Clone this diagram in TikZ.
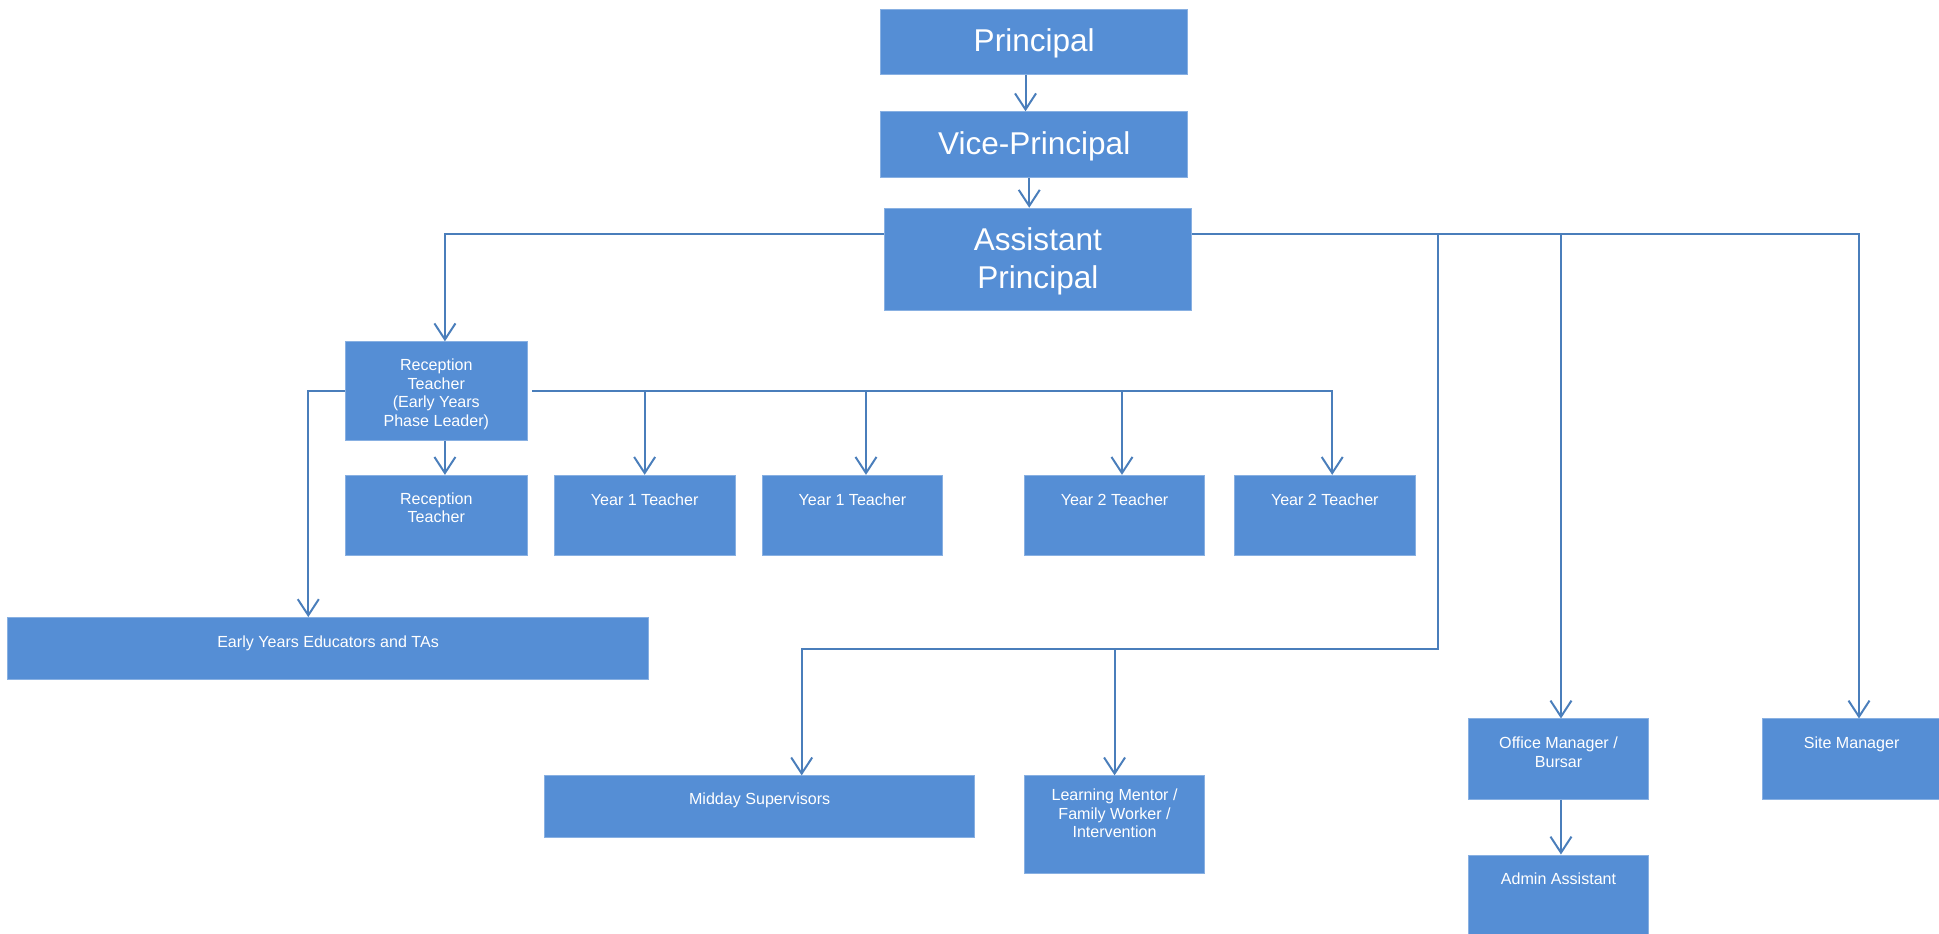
\documentclass[tikz,border=0pt]{standalone}
\usepackage{fontspec}
\setmainfont{Liberation Sans}
\usetikzlibrary{arrows.meta}
\definecolor{boxblue}{HTML}{558ED5}
\definecolor{linkblue}{HTML}{4A7EBB}
\begin{document}
\begin{tikzpicture}[x=1pt,y=-1pt,
  box/.style={fill=boxblue, draw=boxblue!70!white, line width=0.6pt, inner sep=0pt, anchor=north west},
  big/.style={text=white, font=\fontsize{25.5}{31}\selectfont, align=center, inner sep=0pt},
  lbl/.style={text=white, font=\fontsize{13}{15}\selectfont, align=center, inner sep=0pt, anchor=north},
  conn/.style={draw=linkblue, line width=1.6pt},
  arr/.style={conn, -{Straight Barb[length=13pt,width=17pt]}}]
\path[use as bounding box] (0,0) rectangle (1568,755);
% boxes
\node[box, minimum width=248pt, minimum height=53pt] (P) at (712,7) {};
\node[box, minimum width=248pt, minimum height=53pt] (VP) at (712,90) {};
\node[box, minimum width=248pt, minimum height=83pt] (AP) at (715,168) {};
\node[box, minimum width=147pt, minimum height=80pt] (RPL) at (279,276) {};
\node[box, minimum width=147pt, minimum height=65pt] (RT) at (279,384) {};
\node[box, minimum width=146pt, minimum height=65pt] (Y1a) at (448,384) {};
\node[box, minimum width=146pt, minimum height=65pt] (Y1b) at (616,384) {};
\node[box, minimum width=146pt, minimum height=65pt] (Y2a) at (828,384) {};
\node[box, minimum width=146pt, minimum height=65pt] (Y2b) at (998,384) {};
\node[box, minimum width=518pt, minimum height=50pt] (EY) at (6,499) {};
\node[box, minimum width=348pt, minimum height=50pt] (MS) at (440,627) {};
\node[box, minimum width=146pt, minimum height=79pt] (LM) at (828,627) {};
\node[box, minimum width=146pt, minimum height=65pt] (OM) at (1187,581) {};
\node[box, minimum width=146pt, minimum height=72pt] (AA) at (1187,691) {};
\node[box, minimum width=146pt, minimum height=65pt] (SM) at (1425,581) {};
% texts
\node[big] (Pt) at ([yshift=-1.5pt]P.center) {Principal};
\node[big] (VPt) at ([yshift=-1.5pt]VP.center) {Vice-Principal};
\node[big] (APt) at ([yshift=-1.5pt]AP.center) {Assistant\\Principal};
\node[lbl] (RPLt) at ([yshift=-14pt]RPL.north) {Reception\\Teacher\\(Early Years\\Phase Leader)};
\node[lbl] (RTt) at ([yshift=-14pt]RT.north) {Reception\\Teacher};
\node[lbl] (Y1at) at ([yshift=-15pt]Y1a.north) {Year 1 Teacher};
\node[lbl] (Y1bt) at ([yshift=-15pt]Y1b.north) {Year 1 Teacher};
\node[lbl] (Y2at) at ([yshift=-15pt]Y2a.north) {Year 2 Teacher};
\node[lbl] (Y2bt) at ([yshift=-15pt]Y2b.north) {Year 2 Teacher};
\node[lbl] (EYt) at ([yshift=-15pt]EY.north) {Early Years Educators and TAs};
\node[lbl] (MSt) at ([yshift=-14pt]MS.north) {Midday Supervisors};
\node[lbl] (LMt) at ([yshift=-11pt]LM.north) {Learning Mentor /\\Family Worker /\\Intervention};
\node[lbl] (OMt) at ([yshift=-15pt]OM.north) {Office Manager /\\Bursar};
\node[lbl] (AAt) at ([yshift=-15pt]AA.north) {Admin Assistant};
\node[lbl] (SMt) at ([yshift=-15pt,xshift=-1pt]SM.north) {Site Manager};
% connectors
\coordinate (hy) at (0,189);
\coordinate (my) at (0,525);
\coordinate (br) at (1163,189);
\coordinate (brd) at (1163,525);
\draw[arr] ([xshift=-7pt]P.south) -- ([xshift=-7pt]VP.north);
\draw[arr] ([xshift=-4pt]VP.south) -- ([xshift=-7pt]AP.north);
\draw[arr] (AP.west |- hy) -| ([xshift=7pt]RPL.north);
\draw[arr] (AP.east |- hy) -| ([xshift=5pt]SM.north);
\draw[arr] ([xshift=2pt]OM.north |- hy) -- ([xshift=2pt]OM.north);
\draw[arr] (br) -- (brd) -| ([xshift=34pt]MS.north);
\draw[arr] (LM.north |- my) -- (LM.north);
\draw[arr] ([xshift=2pt]OM.south) -- ([xshift=2pt]AA.north);
\draw[arr] (RPL.west) -| ([xshift=-16pt]EY.north);
\draw[arr] ([xshift=4pt]RPL.east) -| ([xshift=6pt]Y2b.north);
\draw[arr] (Y1a.north |- RPL.east) -- (Y1a.north);
\draw[arr] ([xshift=11pt]Y1b.north |- RPL.east) -- ([xshift=11pt]Y1b.north);
\draw[arr] ([xshift=6pt]Y2a.north |- RPL.east) -- ([xshift=6pt]Y2a.north);
\draw[arr] ([xshift=7pt]RPL.south) -- ([xshift=7pt]RT.north);
\end{tikzpicture}
\end{document}
